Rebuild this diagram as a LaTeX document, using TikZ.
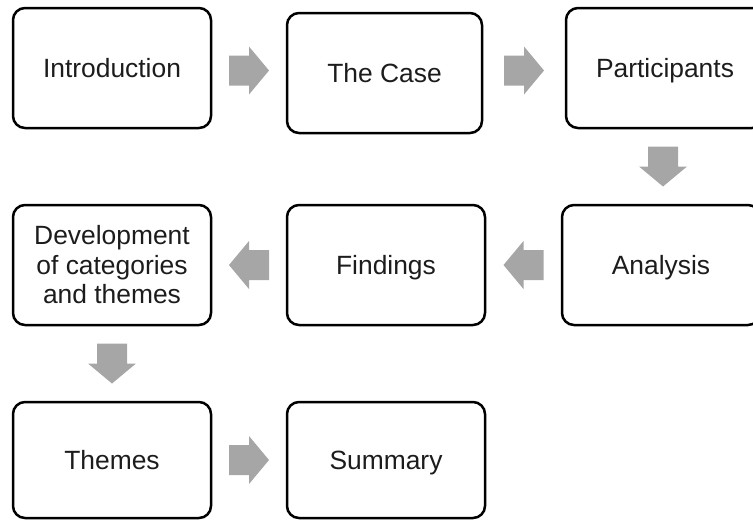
\documentclass[tikz,border=0pt]{standalone}
\usepackage{fontspec}
\setmainfont{Liberation Sans}
\usetikzlibrary{calc}
\definecolor{arrowgray}{HTML}{A6A6A6}
\definecolor{textdark}{HTML}{1C1C1C}
\begin{document}
\begin{tikzpicture}[x=1pt,y=-1pt,
  stage/.style={draw=black, line width=2.5pt, rounded corners=12pt,
    minimum width=198pt, minimum height=120pt, inner sep=0pt,
    align=center, text=textdark,
    font=\fontsize{26.4}{29.5}\selectfont},
  oneline/.style={stage, text height=19pt, text depth=0pt},
  blockarrow/.pic={\fill[arrowgray] (-20,-15) -- (0,-15) -- (0,-24) -- (20,0)
      -- (0,24) -- (0,15) -- (-20,15) -- cycle;}]
  \useasboundingbox (0,0) rectangle (753,520);
  \clip (0,0) rectangle (753,520);

  % top row
  \node[oneline] (intro) at (112,68)   {Introduction};
  \node[oneline, minimum width=195pt] (case) at (384.5,73) {The Case};
  \node[oneline] (part)  at (665,68)   {Participants};
  % middle row
  \node[stage]   (dev)   at (112,265)  {Development\\of categories\\and themes};
  \node[oneline] (find)  at (386,265)  {Findings};
  \node[oneline] (anal)  at (661,265)  {Analysis};
  % bottom row
  \node[oneline, minimum height=116pt] (themes) at (112,460) {Themes};
  \node[oneline, minimum height=116pt] (summ)   at (386,460) {Summary};

  % block arrows between the stages
  \pic at ($(intro.east)!0.5!(case.west)$) {blockarrow};
  \pic at ($(case.east)!0.5!(part.west)$) {blockarrow};
  \pic[rotate=-90] at ($(part.south)!0.5!(anal.north)$) {blockarrow};
  \pic[rotate=180] at ($(anal.west)!0.5!(find.east)$) {blockarrow};
  \pic[rotate=180] at ($(find.west)!0.5!(dev.east)$) {blockarrow};
  \pic[rotate=-90] at ($(dev.south)!0.5!(themes.north)$) {blockarrow};
  \pic at ($(themes.east)!0.5!(summ.west)$) {blockarrow};
\end{tikzpicture}
\end{document}
